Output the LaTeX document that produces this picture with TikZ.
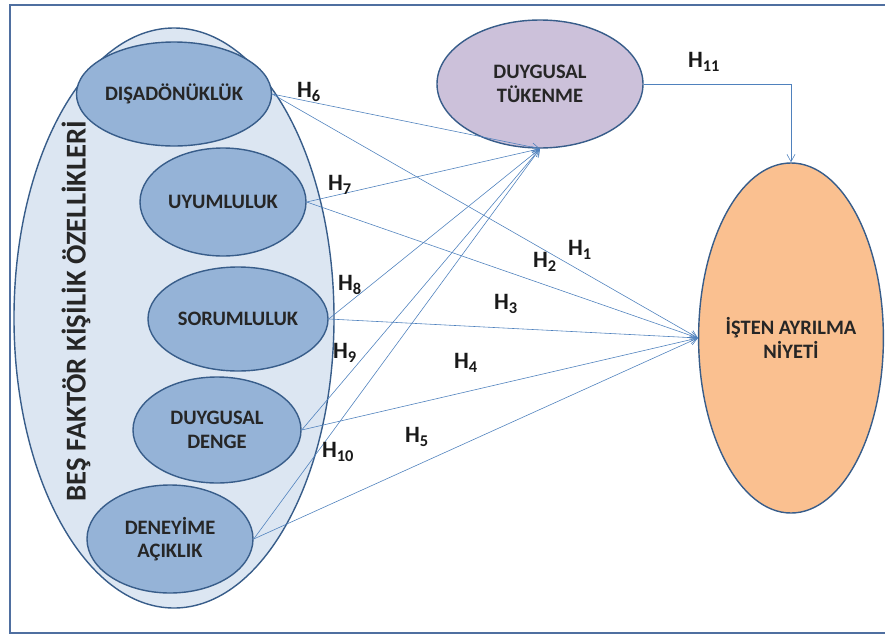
\documentclass[tikz,border=0pt]{standalone}
\usepackage{fontspec}
\setmainfont{Carlito}
\usetikzlibrary{shapes.geometric, arrows.meta}

\definecolor{framecol}{RGB}{79,111,160}
\definecolor{edgecol}{RGB}{56,93,138}
\definecolor{outerfill}{RGB}{220,230,242}
\definecolor{traitfill}{RGB}{149,179,215}
\definecolor{tukfill}{RGB}{204,193,218}
\definecolor{niyetfill}{RGB}{250,192,144}
\definecolor{linkcol}{RGB}{79,129,189}

\begin{document}
\begin{tikzpicture}[
    x=0.03cm, y=-0.03cm,
    oval/.style={ellipse, draw=edgecol, line width=1.2pt, inner sep=0pt, align=center,
      font=\fontsize{17.5}{20}\selectfont\bfseries, text=black!85},
    trait/.style={oval, fill=traitfill},
    arrow/.style={-{Straight Barb[length=2.2mm,width=2.4mm]}, linkcol, line width=0.5pt},
    hyp/.style={font=\fontsize{20}{22}\selectfont\bfseries, text=black!90, inner sep=0pt}
  ]
  \useasboundingbox (0,0) rectangle (885,637);

  % ---- Cerceve ----
  \draw[framecol, line width=2.2pt] (10,5) rectangle (895,633);

  % ---- Bes faktor ----
  \node[oval, fill=outerfill, minimum width=9.6cm, minimum height=17.4cm] (bes) at (174,318) {};
  \node[rotate=90, font=\fontsize{24.5}{26}\selectfont\bfseries, text=black!85] (besyazi) at (76,311)
    {BEŞ FAKTÖR KİŞİLİK ÖZELLİKLERİ};

  \node[trait, minimum width=4.86cm, minimum height=3.12cm] (disa) at (174,94) {DIŞADÖNÜKLÜK};
  \node[trait, minimum width=4.98cm, minimum height=3.24cm] (uyum) at (223,202) {UYUMLULUK};
  \node[trait, minimum width=5.4cm, minimum height=3.12cm] (sorum) at (238,319) {SORUMLULUK};
  \node[trait, minimum width=5.04cm, minimum height=3.18cm] (denge) at (217,430) {DUYGUSAL\\DENGE};
  \node[trait, minimum width=4.98cm, minimum height=3.24cm] (deney) at (170,539) {DENEYİME\\AÇIKLIK};

  % ---- Sonuclar ----
  \node[oval, fill=tukfill, minimum width=6.18cm, minimum height=3.84cm] (tukenme) at (540,84) {DUYGUSAL\\TÜKENME};
  \node[oval, fill=niyetfill, minimum width=5.22cm, minimum height=10.5cm] (niyet) at (791,338)
    {İŞTEN AYRILMA\\NİYETİ};

  % ---- Oklar ----
  \foreach \s in {disa, uyum, sorum, denge, deney} {
    \draw[arrow] (\s.east) -- (tukenme.south);
    \draw[arrow] (\s.east) -- (niyet.west);
  }
  \draw[arrow] (tukenme.east) -| (niyet.north);

  % ---- Hipotezler ----
  \node[hyp] (h1) at (580,250) {H\textsubscript{1}};
  \node[hyp] (h2) at (545,262) {H\textsubscript{2}};
  \node[hyp] (h3) at (506,304) {H\textsubscript{3}};
  \node[hyp] (h4) at (466,363) {H\textsubscript{4}};
  \node[hyp] (h5) at (417,437) {H\textsubscript{5}};
  \node[hyp] (h6) at (309,92) {H\textsubscript{6}};
  \node[hyp] (h7) at (340,185) {H\textsubscript{7}};
  \node[hyp] (h8) at (350,285) {H\textsubscript{8}};
  \node[hyp] (h9) at (345,353) {H\textsubscript{9}};
  \node[hyp] (h10) at (338,452) {H\textsubscript{10}};
  \node[hyp] (h11) at (704,62) {H\textsubscript{11}};
\end{tikzpicture}
\end{document}
